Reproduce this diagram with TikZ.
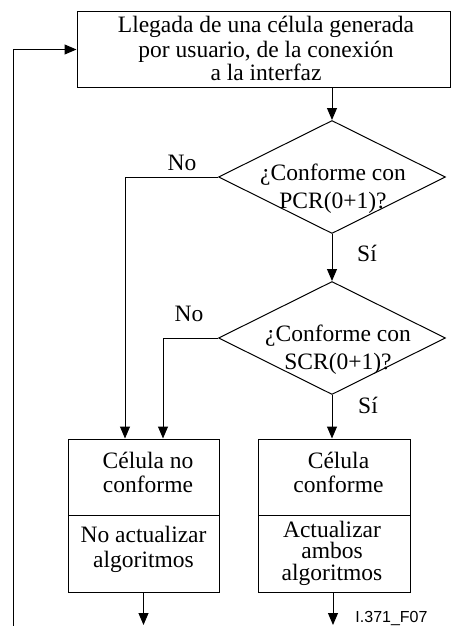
\documentclass[tikz,border=0pt]{standalone}
\usepackage{fontspec}
\setmainfont{Liberation Serif}
\newfontfamily\tagsans{Liberation Sans}
\usetikzlibrary{shapes.geometric,arrows.meta}
\begin{document}
\begin{tikzpicture}[x=1pt,y=-1pt,line width=1pt,
  arr/.style={-{Triangle[length=12pt,width=10pt]}},
  box/.style={draw,rectangle,inner sep=0pt},
  dec/.style={draw,diamond,inner sep=0pt,minimum width=227pt,minimum height=113pt},
  txt/.style={font=\fontsize{23.5}{24}\selectfont,align=center,anchor=base,inner sep=0pt},
  dtxt/.style={txt,font=\fontsize{23.5}{28}\selectfont},
  ttxt/.style={txt,font=\fontsize{23.5}{21.5}\selectfont},
  tag/.style={font=\tagsans\fontsize{16}{16}\selectfont,anchor=base,inner sep=0pt}]
\useasboundingbox (0,0) rectangle (451,626);

% boxes and decisions
\node[box,minimum width=373pt,minimum height=75pt] (arrive) at (263.5,49.5) {};
\node[dec] (d1) at (332,177) {};
\node[dec] (d2) at (332,338) {};
\node[box,minimum width=151pt,minimum height=76pt] (ncu) at (143.5,477) {};
\node[box,minimum width=151pt,minimum height=77pt] (ncl) at (143.5,553.5) {};
\node[box,minimum width=152pt,minimum height=76pt] (cu) at (334,477) {};
\node[box,minimum width=152pt,minimum height=77pt] (cl) at (334,553.5) {};

% texts (placed by the baseline of their last line)
\node[txt] (t0) at (266,81) {Llegada de una célula generada\\por usuario, de la conexión\\a la interfaz};
\node[dtxt] (t1) at (333,208) {¿Conforme con\\PCR(0+1)?};
\node[dtxt] (t2) at (338,369) {¿Conforme con\\SCR(0+1)?};
\node[txt] (t3) at (148,492) {Célula no\\conforme};
\node[txt,font=\fontsize{23.5}{25}\selectfont] (t4) at (143.5,567) {No actualizar\\algoritmos};
\node[txt] (t5) at (338.5,492) {Célula\\conforme};
\node[ttxt] (t6) at (332,580) {Actualizar\\ambos\\algoritmos};
\node[txt] (no1) at (182,170) {No};
\node[txt] (no2) at (189,321) {No};
\node[txt] (si1) at (367,261) {Sí};
\node[txt] (si2) at (368,413) {Sí};
\node[tag] (fig) at (391.5,622) {I.371\_F07};

% connectors
\coordinate (loopfoot) at (13,626);
\coordinate (outnc) at (143.5,625);
\coordinate (outc) at (333,625);
\draw[arr] (loopfoot) |- (arrive.west);
\draw[arr] (arrive.south -| d1.north) -- (d1.north);
\draw[arr] (d1.south) -- (d2.north);
\draw[arr] (d1.west) -| ([xshift=-18.5pt]ncu.north);
\draw[arr] (d2.west) -| ([xshift=19.5pt]ncu.north);
\draw[arr] (d2.south) -- (d2.south |- cu.north);
\draw[arr] (ncl.south) -- (outnc);
\draw[arr] (cl.south -| outc) -- (outc);
\end{tikzpicture}
\end{document}
